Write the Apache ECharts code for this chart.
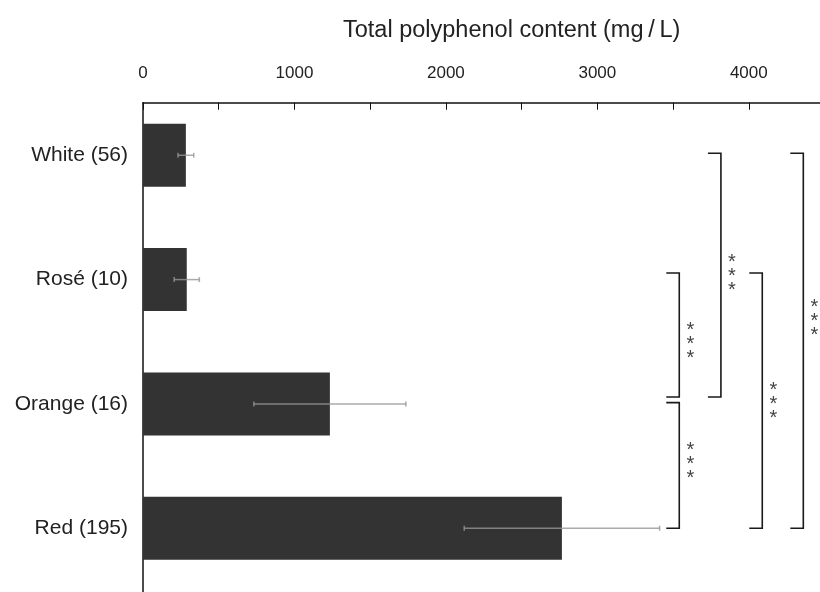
<!DOCTYPE html>
<html><head><meta charset="utf-8">
<script src="https://cdn.jsdelivr.net/npm/echarts@6/dist/echarts.min.js"></script>
<style>html,body{margin:0;padding:0;background:#fff}#c{width:820px;height:592px}</style>
</head><body><div id="c"></div>
<script>
// ---- data ----
const categories = ['White (56)', 'Rosé (10)', 'Orange (16)', 'Red (195)'];
const means = [283, 289, 1234, 2766];
const sds = [52, 83, 502, 645];
const axisTitle = 'Total polyphenol content (mg\u2009/\u2009L)';
const xMin = 0, xMax = 4490, xTickStep = 500, xLabelStep = 1000;
// significance brackets: [x position (mg/L), from category index, to category index]
const brackets = [[3541, 1, 2], [3541, 2, 3], [3816, 0, 2], [4089, 1, 3], [4360, 0, 3]];
const bracketEndShift = [[-0.053, -0.055], [-0.01, 0], [-0.016, -0.055], [-0.053, 0], [-0.016, 0]];
const bracketStarPos = [1.48, 2.45, 0.936, 1.963, 1.298];
const sigLabel = '*\n*\n*';

const FONT = '"Liberation Sans", Arial, Helvetica, sans-serif';
const chart = echarts.init(document.getElementById('c'), null, {renderer: 'canvas'});

const errData = categories.map((c, i) => [i, means[i] - sds[i], means[i] + sds[i]]);

function renderErr(params, api) {
  const y = api.value(0);
  const lo = api.coord([api.value(1), y]);
  const hi = api.coord([api.value(2), y]);
  const h = 2.5;
  const st = {stroke: 'rgba(150,150,150,0.8)', lineWidth: 1.5};
  return {type: 'group', children: [
    {type: 'line', shape: {x1: lo[0], y1: lo[1], x2: hi[0], y2: hi[1]}, style: st},
    {type: 'line', shape: {x1: lo[0], y1: lo[1] - h, x2: lo[0], y2: lo[1] + h}, style: st},
    {type: 'line', shape: {x1: hi[0], y1: hi[1] - h, x2: hi[0], y2: hi[1] + h}, style: st}
  ]};
}

function renderBracket(params, api) {
  const i = params.dataIndex;
  const xv = api.value(0);
  const p0 = api.coord([xv, 0]);
  const p1 = api.coord([xv, 1]);
  const band = p1[1] - p0[1];
  const yAt = pos => p0[1] + pos * band;
  const x0 = p0[0];
  const yTop = yAt(api.value(1) + bracketEndShift[i][0]);
  const yBot = yAt(api.value(2) + bracketEndShift[i][1]);
  const cap = 13;
  return {type: 'group', children: [
    {type: 'polyline', shape: {points: [[x0 - cap, yTop], [x0, yTop], [x0, yBot], [x0 - cap, yBot]]},
     style: {stroke: '#1a1a1a', lineWidth: 1.6, fill: null}},
    {type: 'text', x: x0 + 11, y: yAt(bracketStarPos[i]) + 5,
     style: {text: sigLabel, fill: '#444', font: '20px ' + FONT, lineHeight: 14, align: 'center', verticalAlign: 'middle'}}
  ]};
}

chart.setOption({
  animation: false,
  backgroundColor: '#fff',
  title: {text: axisTitle, left: 343, top: 19, padding: 0,
          textStyle: {fontFamily: FONT, fontSize: 23.5, fontWeight: 'normal', color: '#222'}},
  grid: [
    {left: 143, width: 680, top: 93.1, height: 497.3, outerBoundsMode: 'none', containLabel: false},
    {left: 143, width: 680, top: 102.7, height: 492, outerBoundsMode: 'none', containLabel: false}
  ],
  xAxis: [
    {gridIndex: 0, type: 'value', min: xMin, max: xMax, show: false},
    {gridIndex: 1, type: 'value', position: 'top', min: xMin, max: xMax, interval: xTickStep,
     axisLine: {show: true, onZero: false, lineStyle: {color: '#111', width: 1.5}},
     axisTick: {show: true, inside: true, length: 7, lineStyle: {color: '#111', width: 1}},
     axisLabel: {fontFamily: FONT, fontSize: 17, color: '#222', margin: 21,
                 formatter: v => (v % xLabelStep === 0 ? String(v) : '')},
     splitLine: {show: false}}
  ],
  yAxis: [
    {gridIndex: 0, type: 'category', data: categories, inverse: true,
     axisLine: {show: false}, axisTick: {show: false},
     axisLabel: {fontFamily: FONT, fontSize: 21, color: '#222', margin: 15}},
    {gridIndex: 1, type: 'value',
     axisLine: {show: true, onZero: false, lineStyle: {color: '#111', width: 1.5}},
     axisTick: {show: false}, axisLabel: {show: false}, splitLine: {show: false}}
  ],
  series: [
    {type: 'bar', xAxisIndex: 0, yAxisIndex: 0, data: means, barWidth: 63,
     itemStyle: {color: '#333333'}},
    {type: 'custom', xAxisIndex: 0, yAxisIndex: 0, data: errData, encode: {y: 0, x: [1, 2]},
     renderItem: renderErr, z: 3},
    {type: 'custom', xAxisIndex: 0, yAxisIndex: 0, data: brackets, encode: {x: 0, y: [1, 2]},
     renderItem: renderBracket, z: 3}
  ]
});
</script></body></html>
